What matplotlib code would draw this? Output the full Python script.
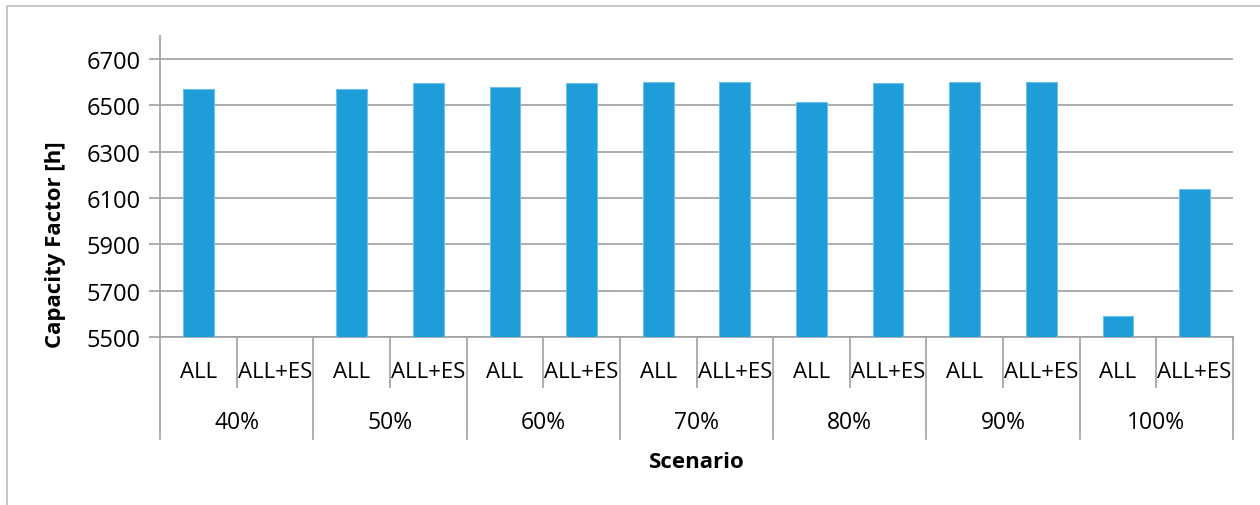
import numpy as np
import matplotlib
matplotlib.use("Agg")
import matplotlib.pyplot as plt
from matplotlib.patches import Rectangle

plt.rcParams['font.family'] = ['Open Sans', 'DejaVu Sans']

# data
scenarios = ['40%', '50%', '60%', '70%', '80%', '90%', '100%']
variants = ['ALL', 'ALL+ES']
all_vals = [6573, 6569, 6579, 6600, 6517, 6600, 5591]
all_es_vals = [np.nan, 6595, 6596, 6600, 6599, 6600, 6138]

values = []
labels = []
for a, b in zip(all_vals, all_es_vals):
	values += [a, b]
	labels += variants
x = np.arange(len(values))

W, H = 1260, 506
fig = plt.figure(figsize=(W / 100, H / 100), dpi=100)
fig.patches.append(Rectangle((7 / W, -0.1), 1.2, 1 - 7 / H + 0.1, transform=fig.transFigure,
	fill=False, edgecolor='#bfbfbf', linewidth=1.2))

ax = fig.add_axes([160 / W, 1 - 338 / H, (1233 - 160) / W, (338 - 37) / H])
grey = '#a0a0a0'
ax.bar(x, values, width=0.4, color='#1f9dd9', edgecolor='#6cc0ea', linewidth=0.8, zorder=3)
ax.set_xlim(-0.5, len(values) - 0.5)
ax.set_ylim(5500, 6800)
ax.set_yticks(np.arange(5500, 6701, 200))
ax.yaxis.grid(True, color=grey, linewidth=1.2)
ax.set_axisbelow(True)
for s in ['top', 'right']:
	ax.spines[s].set_visible(False)
for s in ['left', 'bottom']:
	ax.spines[s].set_color(grey)
	ax.spines[s].set_linewidth(1.2)
ax.tick_params(axis='y', direction='out', length=8, color=grey, width=1.2, labelsize=17, pad=6)
ax.set_xticks([])

tr = ax.get_xaxis_transform()
hpx = 338 - 37
for i, lab in enumerate(labels):
	ax.text(i, -(372 - 338) / hpx, lab, transform=tr, ha='center', va='center', fontsize=16)
for i in range(len(values) + 1):
	b = i - 0.5
	bottom = (440 - 338) / hpx if i % 2 == 0 else (388 - 338) / hpx
	ax.plot([b, b], [0, -bottom], transform=tr, color=grey, linewidth=1.2, clip_on=False)
for g, name in enumerate(scenarios):
	ax.text(2 * g + 0.5, -(423 - 338) / hpx, name, transform=tr, ha='center', va='center', fontsize=16.5)

fig.text(0.5 * (160 + 1233) / W, 1 - 463 / H, 'Scenario', ha='center', va='center',
	fontsize=16, fontweight='bold')
fig.text(55 / W, 1 - 245 / H, 'Capacity Factor [h]', ha='center', va='center',
	rotation=90, fontsize=16, fontweight='bold')

fig.savefig('out.png', dpi=100)
